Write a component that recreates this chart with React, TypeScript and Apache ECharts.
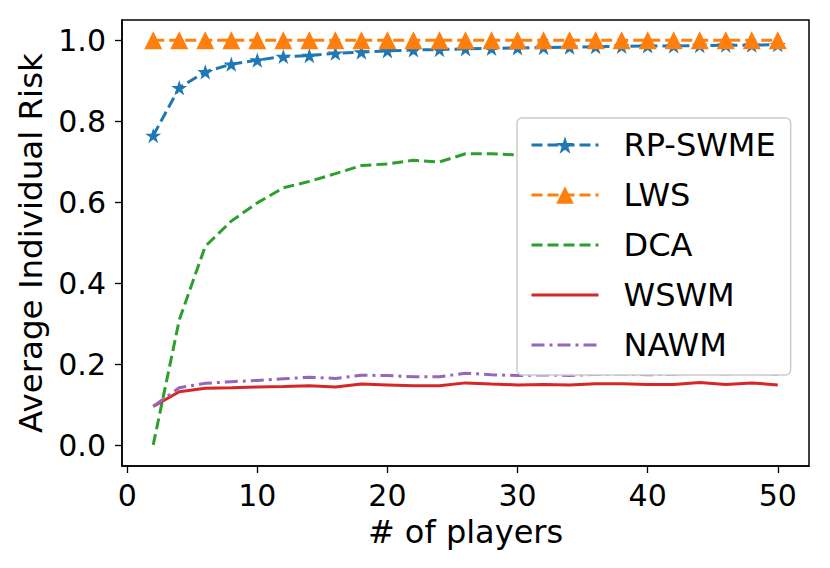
import React, { useEffect, useRef } from "react";
import * as echarts from "echarts";

const players = [2, 4, 6, 8, 10, 12, 14, 16, 18, 20, 22, 24, 26, 28, 30, 32, 34, 36, 38, 40, 42, 44, 46, 48, 50];
const rpSwme = [0.765, 0.883, 0.922, 0.941, 0.951, 0.96, 0.962, 0.968, 0.971, 0.974, 0.976, 0.977, 0.979, 0.98, 0.981, 0.982, 0.983, 0.984, 0.985, 0.986, 0.986, 0.987, 0.988, 0.988, 0.989];
const lws = [1, 1, 1, 1, 1, 1, 1, 1, 1, 1, 1, 1, 1, 1, 1, 1, 1, 1, 1, 1, 1, 1, 1, 1, 1];
const dca = [0.002, 0.31, 0.492, 0.554, 0.599, 0.636, 0.652, 0.671, 0.691, 0.695, 0.704, 0.7, 0.72, 0.72, 0.717, 0.722, 0.725, 0.727, 0.73, 0.732, 0.733, 0.735, 0.736, 0.738, 0.74];
const wswm = [0.097, 0.133, 0.142, 0.143, 0.145, 0.146, 0.148, 0.145, 0.152, 0.15, 0.148, 0.148, 0.155, 0.152, 0.15, 0.151, 0.15, 0.153, 0.153, 0.151, 0.151, 0.156, 0.151, 0.155, 0.15];
const nawm = [0.097, 0.143, 0.154, 0.158, 0.161, 0.165, 0.169, 0.166, 0.174, 0.173, 0.17, 0.17, 0.179, 0.175, 0.173, 0.175, 0.173, 0.176, 0.177, 0.175, 0.176, 0.179, 0.177, 0.179, 0.176];

const xTicks = [0, 10, 20, 30, 40, 50];
const yTicks = [0, 0.2, 0.4, 0.6, 0.8, 1.0];

const seriesNames = ["RP-SWME", "LWS", "DCA", "WSWM", "NAWM"];
const colors = ["#1f77b4", "#ff7f0e", "#2ca02c", "#d62728", "#9467bd"];

const STAR =
  "path://M50,0 L61.2,34.5 L97.6,34.5 L68.2,55.9 L79.4,90.5 L50,69.1 L20.6,90.5 L31.8,55.9 L2.4,34.5 L38.8,34.5 Z";

const FONT = "DejaVu Sans";
const CLEAR = "rgba(0,0,0,0)";

function pairs(ys: number[]) {
  return players.map((x, i) => [x, ys[i]]);
}

export default function App() {
  const ref = useRef<HTMLDivElement>(null);
  useEffect(() => {
    document.body.style.margin = "0";
    const chart = echarts.init(ref.current!, undefined, { renderer: "svg" });
    const dashed = [11, 5];
    const dashDot = [13, 5, 3, 5];
    const plain = (i: number, ys: number[], type: any) => ({
      name: seriesNames[i],
      type: "line",
      data: pairs(ys),
      symbol: "circle",
      showSymbol: false,
      symbolSize: 0,
      itemStyle: { color: CLEAR },
      lineStyle: { color: colors[i], width: 3, type },
      emphasis: { disabled: true },
    });
    chart.setOption({
      animation: false,
      backgroundColor: "#ffffff",
      textStyle: { fontFamily: FONT },
      grid: {
        left: 122,
        right: 21,
        top: 20,
        bottom: 102,
        show: true,
        borderColor: "#000",
        borderWidth: 1.5,
        containLabel: false,
      },
      xAxis: {
        type: "value",
        min: -0.4,
        max: 52.4,
        splitLine: { show: false },
        axisLine: { show: true, onZero: false, lineStyle: { color: "#000", width: 1.5 } },
        axisTick: { show: true, length: 7, lineStyle: { color: "#000", width: 1.3 }, customValues: xTicks },
        axisLabel: {
          color: "#000",
          fontSize: 30,
          fontFamily: FONT,
          margin: 14,
          customValues: xTicks,
        },
        name: "# of players",
        nameLocation: "middle",
        nameGap: 50,
        nameTextStyle: { color: "#000", fontSize: 32, fontFamily: FONT },
      },
      yAxis: {
        type: "value",
        min: -0.05,
        max: 1.05,
        splitLine: { show: false },
        axisLine: { show: true, onZero: false, lineStyle: { color: "#000", width: 1.5 } },
        axisTick: { show: true, length: 7, lineStyle: { color: "#000", width: 1.3 }, customValues: yTicks },
        axisLabel: {
          color: "#000",
          fontSize: 30,
          fontFamily: FONT,
          margin: 16,
          customValues: yTicks,
          formatter: (v: number) => v.toFixed(1),
        },
        name: "Average Individual Risk",
        nameLocation: "middle",
        nameGap: 74,
        nameTextStyle: { color: "#000", fontSize: 32.5, fontFamily: FONT },
      },
      legend: {
        orient: "vertical",
        left: 517,
        top: 118,
        z: 20,
        data: seriesNames,
        itemWidth: 67,
        itemHeight: 22,
        itemGap: 18,
        padding: [11, 15, 14, 13],
        backgroundColor: "#ffffff",
        borderColor: "#cccccc",
        borderWidth: 1.5,
        borderRadius: 5,
        selectedMode: false,
        lineStyle: { width: 3 },
        textStyle: { color: "#000", fontSize: 32, fontFamily: FONT, lineHeight: 30, padding: [0, 0, 0, 20] },
      },
      series: [
        {
          name: seriesNames[0],
          type: "line",
          data: pairs(rpSwme),
          symbol: STAR,
          symbolSize: 16,
          symbolKeepAspect: true,
          lineStyle: { color: colors[0], width: 3, type: dashed },
          itemStyle: { color: colors[0] },
          emphasis: { disabled: true },
        },
        {
          name: seriesNames[1],
          type: "line",
          data: pairs(lws),
          symbol: "triangle",
          symbolSize: 18,
          lineStyle: { color: colors[1], width: 3, type: dashed },
          itemStyle: { color: colors[1] },
          emphasis: { disabled: true },
        },
        plain(2, dca, dashed),
        plain(3, wswm, "solid"),
        plain(4, nawm, dashDot),
      ],
    });
    return () => chart.dispose();
  }, []);
  return <div ref={ref} style={{ width: 830, height: 568 }} />;
}
